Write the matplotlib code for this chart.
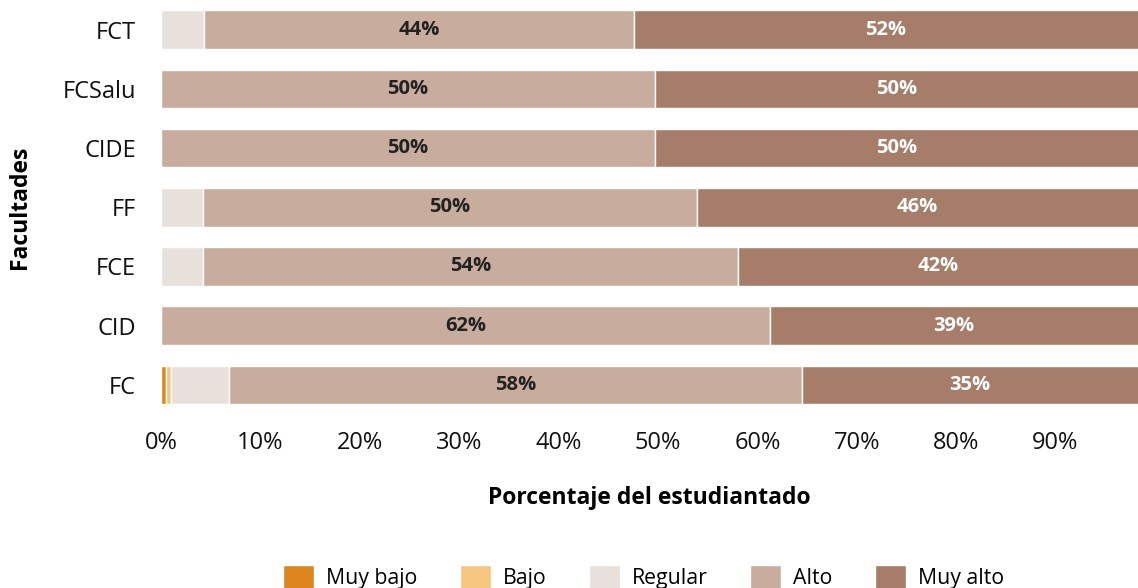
import numpy as np
import matplotlib.pyplot as plt

plt.rcParams['font.family'] = ['Open Sans', 'DejaVu Sans']

# datos (de abajo hacia arriba)
facultades = ['FC', 'CID', 'FCE', 'FF', 'CIDE', 'FCSalu', 'FCT']
niveles = ['Muy bajo', 'Bajo', 'Regular', 'Alto', 'Muy alto']
colores = ['#DC851F', '#F7C67E', '#E8E0DA', '#C8AD9F', '#A67D69']

muy_bajo = [0.5, 0, 0, 0, 0, 0, 0]
bajo = [0.5, 0, 0, 0, 0, 0, 0]
regular = [5.8, 0, 4.2, 4.2, 0, 0, 4.3]
alto = [57.7, 61.3, 53.9, 49.7, 49.7, 49.7, 43.3]
muy_alto = [35.5, 38.7, 41.9, 46.1, 50.3, 50.3, 52.4]

etiquetas_alto = ['58%', '62%', '54%', '50%', '50%', '50%', '44%']
etiquetas_muy_alto = ['35%', '39%', '42%', '46%', '50%', '50%', '52%']

series = [muy_bajo, bajo, regular, alto, muy_alto]

fig = plt.figure(figsize=(11.38, 5.88), dpi=100)
ax = fig.add_axes([0.1415, 0.295, 0.8585, 0.705])

y = np.arange(len(facultades))
izq = np.zeros(len(facultades))
barras = []
for nombre, vals, col in zip(niveles, series, colores):
    vals = np.array(vals, dtype=float)
    b = ax.barh(y, vals, left=izq, height=0.65, color=col, edgecolor='white',
                linewidth=1, label=nombre)
    barras.append(b)
    izq = izq + vals

ax.bar_label(barras[3], labels=etiquetas_alto, label_type='center',
             fontsize=14.5, fontweight='bold', color='#222222')
ax.bar_label(barras[4], labels=etiquetas_muy_alto, label_type='center',
             fontsize=14.5, fontweight='bold', color='white')

ax.set_xlim(0, 98.3)
ax.set_ylim(-0.5, 6.5)
ax.set_xticks(np.arange(0, 100, 10))
ax.set_xticklabels([f'{t}%' for t in range(0, 100, 10)])
ax.set_yticks(y)
ax.set_yticklabels(facultades)
ax.tick_params(axis='both', length=0, labelsize=17, colors='#111111')
ax.tick_params(axis='x', pad=12)
ax.tick_params(axis='y', pad=18)
for s in ax.spines.values():
    s.set_visible(False)

ax.set_xlabel('Porcentaje del estudiantado', fontsize=16.5, fontweight='bold', labelpad=22)
ax.set_ylabel('Facultades', fontsize=16.5, fontweight='bold', labelpad=22)

fig.legend(handles=barras, labels=niveles, loc='center', ncol=5,
           bbox_to_anchor=(0.5655, 0.019), frameon=False, fontsize=15.3,
           handlelength=1.46, handleheight=1.4, columnspacing=2.0, handletextpad=0.56)

fig.savefig('out.png', dpi=100)
